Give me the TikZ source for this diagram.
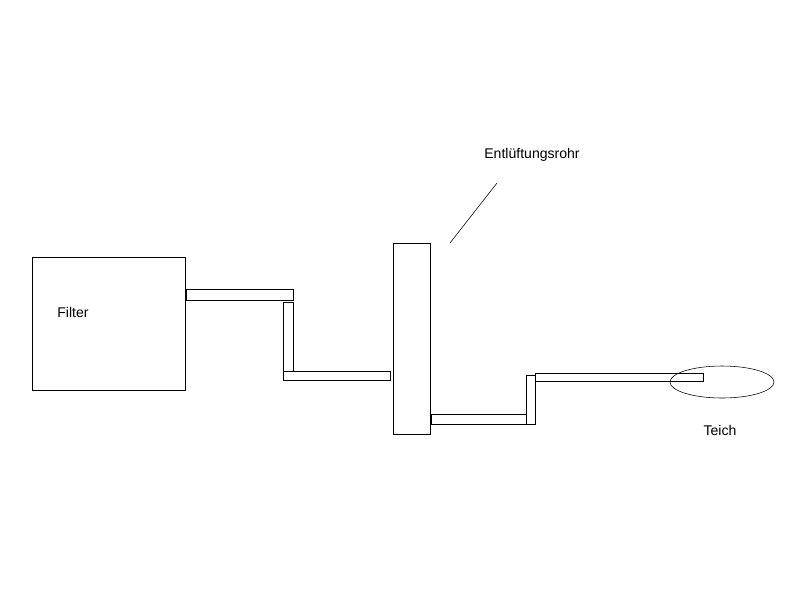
\documentclass[tikz,border=0pt]{standalone}
\usepackage{fontspec}
\setmainfont{Liberation Sans}
\tikzset{pipe/.style={draw,fill=white},lbl/.style={font=\fontsize{10}{12}\selectfont}}
\begin{document}
\begin{tikzpicture}[x=0.025cm,y=-0.025cm]
\useasboundingbox (0,0) rectangle (800,600);
\draw (32,257) rectangle (185,390);
\node[lbl] (filter) at (73,312) {Filter};
\draw[pipe] (186,289) rectangle (293,300);
\draw[pipe] (283,302) rectangle (293,372);
\draw[pipe] (283,371) rectangle (390,380);
\draw (393,243) rectangle (430,434);
\draw[pipe] (431,414) rectangle (526,424);
\draw[pipe] (526,375) rectangle (535,424);
\draw[pipe] (535,373) rectangle (703,381);
\draw (722,382) ellipse (52 and 16);
\node[lbl] (teich) at (720,430) {Teich};
\coordinate (rohrtop) at (497,183);
\coordinate (rohrbot) at (450,243);
\draw (rohrbot) -- (rohrtop);
\node[lbl] (rohr) at (532,155) {Entlüftungsrohr};
\end{tikzpicture}
\end{document}
